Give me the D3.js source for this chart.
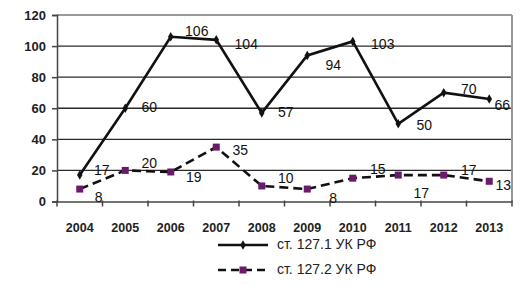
<!DOCTYPE html>
<html><head><meta charset="utf-8">
<script src="https://cdn.jsdelivr.net/npm/d3@7"></script>
<style>body{margin:0;background:#fff}svg{display:block}text{font-family:"Liberation Sans",Arial,sans-serif}</style>
</head><body><svg id="c" width="528" height="286"></svg>
<script>
const years = ["2004","2005","2006","2007","2008","2009","2010","2011","2012","2013"];
const s1 = [17,60,106,104,57,94,103,50,70,66];
const s2 = [8,20,19,35,10,8,15,17,17,13];
const yTicks = [0,20,40,60,80,100,120];
const names = ["ст. 127.1 УК РФ","ст. 127.2 УК РФ"];
// label offsets (dx, dy) in px
const off1 = [[22,-4],[24,0],[26,-4],[30,5],[24,0],[26,11],[30,4],[26,3],[25,-2],[13,7]];
const off2 = [[19,9],[24,-6],[23,6],[24,4],[24,-7],[26,10],[25,-8],[23,19],[25,-4],[14,5]];

const svg = d3.select("#c");
const L=57, R=512, T=15, B=201.5;
const x = d3.scaleBand().domain(years).range([L,R]);
const y = d3.scaleLinear().domain([0,120]).range([B,T]);
const cx = d => x(d)+x.bandwidth()/2;

// grid
svg.append("g").selectAll("line").data(yTicks.filter(v=>v>0)).join("line")
  .attr("x1",L).attr("x2",R).attr("y1",d=>y(d)).attr("y2",d=>y(d))
  .attr("stroke",d=>d===120?"#999":"#2a2a2a").attr("stroke-width",d=>d===120?2:1.4);
svg.append("line").attr("x1",R).attr("x2",R).attr("y1",T).attr("y2",B).attr("stroke","#999").attr("stroke-width",2);

// axes
const ya = svg.append("g").attr("transform",`translate(${L},0)`).call(d3.axisLeft(y).tickValues(yTicks).tickSize(5).tickPadding(6));
ya.select(".domain").attr("stroke","#444").attr("stroke-width",1.5);
ya.selectAll("line").attr("stroke","#444").attr("stroke-width",1.5);
ya.selectAll("text").attr("font-size",13).attr("font-weight","bold").attr("fill","#222");

const xa = svg.append("g").attr("transform",`translate(0,${B})`).call(d3.axisBottom(x).tickSize(0).tickPadding(22));
xa.select(".domain").attr("stroke","#444").attr("stroke-width",1.5);
xa.selectAll("text").attr("font-size",12.5).attr("font-weight","bold").attr("fill","#222");
svg.append("g").selectAll("line").data(d3.range(years.length+1)).join("line")
  .attr("x1",i=>L+i*x.bandwidth()).attr("x2",i=>L+i*x.bandwidth())
  .attr("y1",B-1).attr("y2",B+5).attr("stroke","#444").attr("stroke-width",1.5);

const line = d3.line().x((d,i)=>cx(years[i])).y(d=>y(d));
svg.append("path").datum(s2).attr("d",line).attr("fill","none").attr("stroke","#111").attr("stroke-width",2.6).attr("stroke-dasharray","9,5");
svg.append("path").datum(s1).attr("d",line).attr("fill","none").attr("stroke","#111").attr("stroke-width",2.6);

svg.append("g").selectAll("rect").data(s2).join("rect")
  .attr("x",(d,i)=>cx(years[i])-3.5).attr("y",d=>y(d)-3.5).attr("width",7).attr("height",7).attr("fill","#6b1a6b");
svg.append("g").selectAll("path").data(s1).join("path")
  .attr("d",d3.symbol(d3.symbolDiamond,26))
  .attr("transform",(d,i)=>`translate(${cx(years[i])},${y(d)})`).attr("fill","#111");

const lab = (data,off) => svg.append("g").selectAll("text").data(data).join("text")
  .attr("x",(d,i)=>cx(years[i])+off[i][0]).attr("y",(d,i)=>y(d)+off[i][1])
  .attr("text-anchor","middle").attr("dominant-baseline","middle")
  .attr("font-size",14).attr("fill","#111").text(d=>d);
lab(s1,off1); lab(s2,off2);

// legend
const lg = svg.append("g");
lg.append("line").attr("x1",218).attr("x2",268).attr("y1",245).attr("y2",245).attr("stroke","#111").attr("stroke-width",2.6);
lg.append("path").attr("d",d3.symbol(d3.symbolDiamond,26)).attr("transform","translate(243,245)").attr("fill","#111");
lg.append("line").attr("x1",218).attr("x2",268).attr("y1",270).attr("y2",270).attr("stroke","#111").attr("stroke-width",2.6).attr("stroke-dasharray","8,5");
lg.append("rect").attr("x",239.5).attr("y",266.5).attr("width",7).attr("height",7).attr("fill","#6b1a6b");
lg.selectAll("text").data(names).join("text").attr("x",277).attr("y",(d,i)=>245+i*25)
  .attr("dominant-baseline","middle").attr("font-size",14).attr("fill","#222").text(d=>d);
</script></body></html>
